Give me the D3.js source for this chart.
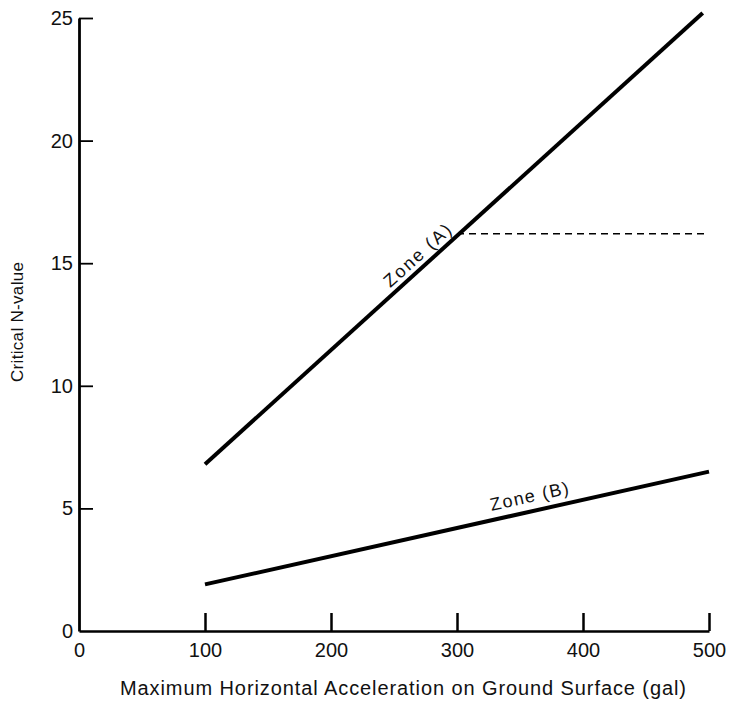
<!DOCTYPE html>
<html><head><meta charset="utf-8">
<script src="https://cdn.jsdelivr.net/npm/d3@7"></script>
<style>body{margin:0;background:#fff}svg{display:block}text{font-family:"Liberation Sans",Arial,sans-serif;fill:#111}</style>
</head><body>
<script>
const xTicks = [0, 100, 200, 300, 400, 500];
const yTicks = [0, 5, 10, 15, 20, 25];
const zoneA = [[100, 6.8], [495, 25.2]];
const zoneB = [[100, 1.9], [500, 6.5]];
const dashLevel = [[300, 16.2], [500, 16.2]];
const labels = [{text: "Zone (A)", at: 275, series: zoneA, len: 84, off: -6}, {text: "Zone (B)", at: 360, series: zoneB, len: 80, off: -9}];
const xTitle = "Maximum Horizontal Acceleration on Ground Surface (gal)";
const yTitle = "Critical N-value";

const W = 729, H = 706;
const svg = d3.select("body").append("svg").attr("width", W).attr("height", H);
const x = d3.scaleLinear().domain([0, 500]).range([79, 709]);
const y = d3.scaleLinear().domain([0, 25]).range([631, 18]);

// axes
const xAxis = d3.axisBottom(x).tickValues(xTicks).tickSizeInner(-18).tickSizeOuter(0).tickPadding(20);
const gx = svg.append("g").attr("transform", `translate(0,${y(0)})`).call(xAxis);
gx.attr("font-size", 20).attr("font-family", "Liberation Sans, Arial");
gx.select(".domain").attr("stroke", "#000").attr("stroke-width", 2.5);
gx.selectAll(".tick line").attr("stroke", "#000").attr("stroke-width", 2.5).attr("y2", d => d === 0 ? 0 : -18);
gx.selectAll(".tick text").attr("y", 26).attr("dy", null).attr("fill", "#111");

const yAxis = d3.axisLeft(y).tickValues(yTicks).tickSizeInner(-14).tickSizeOuter(0).tickPadding(6);
const gy = svg.append("g").attr("transform", `translate(${x(0)},0)`).call(yAxis);
gy.attr("font-size", 20).attr("font-family", "Liberation Sans, Arial");
gy.select(".domain").attr("stroke", "#000").attr("stroke-width", 2.8);
gy.selectAll(".tick line").attr("stroke", "#000").attr("stroke-width", 1.8).attr("x2", d => d === 0 ? 0 : 14);
gy.selectAll(".tick text").attr("fill", "#111");

// lines
const line = d3.line().x(d => x(d[0])).y(d => y(d[1]));
svg.append("path").datum(zoneA).attr("d", line).attr("fill", "none").attr("stroke", "#000").attr("stroke-width", 4);
svg.append("path").datum(zoneB).attr("d", line).attr("fill", "none").attr("stroke", "#000").attr("stroke-width", 4);
svg.append("path").datum(dashLevel).attr("d", line).attr("fill", "none").attr("stroke", "#000").attr("stroke-width", 1.5).attr("stroke-dasharray", "7,5");

// zone labels along their lines
labels.forEach(l => {
  const s = l.series;
  const t = (l.at - s[0][0]) / (s[1][0] - s[0][0]);
  const v = s[0][1] + t * (s[1][1] - s[0][1]);
  const ang = Math.atan2(y(s[1][1]) - y(s[0][1]), x(s[1][0]) - x(s[0][0])) * 180 / Math.PI;
  svg.append("text").attr("transform", `translate(${x(l.at)},${y(v)}) rotate(${ang})`)
    .attr("y", l.off).attr("text-anchor", "middle").attr("font-size", 18)
    .attr("textLength", l.len).attr("lengthAdjust", "spacing").text(l.text);
});

// titles
svg.append("text").attr("x", 403).attr("y", 695).attr("text-anchor", "middle").attr("font-size", 20)
  .attr("textLength", 566).attr("lengthAdjust", "spacing").text(xTitle);
svg.append("text").attr("transform", `translate(23,322) rotate(-90)`).attr("text-anchor", "middle").attr("font-size", 17)
  .attr("textLength", 120).attr("lengthAdjust", "spacing").text(yTitle);
</script>
</body></html>
